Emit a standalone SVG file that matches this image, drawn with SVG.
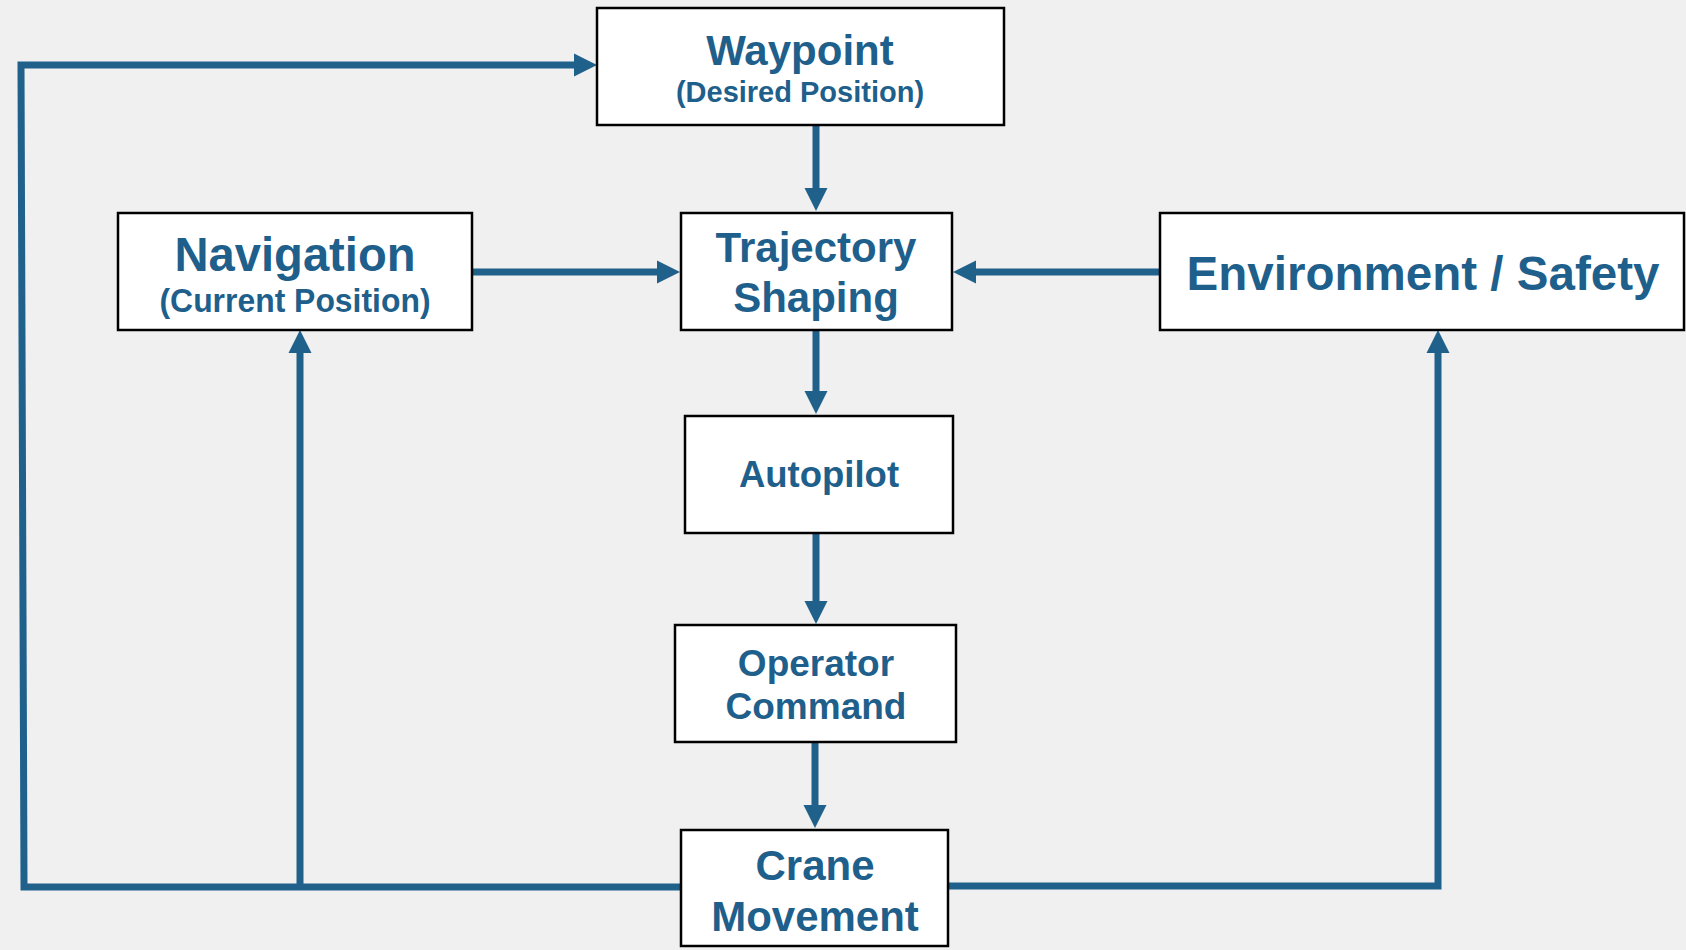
<svg xmlns="http://www.w3.org/2000/svg" width="1686" height="950" viewBox="0 0 1686 950">
<style>
.box{fill:#ffffff;stroke:#000000;stroke-width:2.5}
.t{font-family:"Liberation Sans",Arial,sans-serif;font-weight:bold;fill:#1F5F8B;text-anchor:middle}
.c{fill:none;stroke:#20618C;stroke-width:7;stroke-linejoin:miter}
.a{marker-end:url(#ah)}
</style>
<defs>
<marker id="ah" markerUnits="userSpaceOnUse" markerWidth="24" markerHeight="24" refX="0" refY="11.5" orient="auto" overflow="visible">
<path d="M0,0 L23,11.5 L0,23 z" fill="#20618C"/>
</marker>
</defs>
<rect width="1686" height="950" fill="#F0F0F0"/>
<g id="connectors">
<path class="c a" d="M816 125 V188"/>
<path class="c a" d="M472 272 H657"/>
<path class="c a" d="M1160 272 H976"/>
<path class="c a" d="M816 330 V391"/>
<path class="c a" d="M816 533 V601"/>
<path class="c a" d="M815 742 V805"/>
<path class="c a" d="M681 887 H24 L21 65 H574"/>
<path class="c a" d="M300 887 V353"/>
<path class="c a" d="M948 886 H1438 V353"/>
</g>
<g id="waypoint">
<rect class="box" x="597" y="8" width="407" height="117"/>
<text class="t" x="800" y="65" font-size="42">Waypoint</text>
<text class="t" x="800" y="102" font-size="29">(Desired Position)</text>
</g>
<g id="navigation">
<rect class="box" x="118" y="213" width="354" height="117"/>
<text class="t" x="295" y="271" font-size="48" textLength="241" lengthAdjust="spacingAndGlyphs">Navigation</text>
<text class="t" x="295" y="312" font-size="33" textLength="271" lengthAdjust="spacingAndGlyphs">(Current Position)</text>
</g>
<g id="trajectory">
<rect class="box" x="681" y="213" width="271" height="117"/>
<text class="t" x="816" y="262" font-size="42">Trajectory</text>
<text class="t" x="816" y="312" font-size="42">Shaping</text>
</g>
<g id="environment">
<rect class="box" x="1160" y="213" width="524" height="117"/>
<text class="t" x="1423" y="290" font-size="48" textLength="473" lengthAdjust="spacingAndGlyphs">Environment / Safety</text>
</g>
<g id="autopilot">
<rect class="box" x="685" y="416" width="268" height="117"/>
<text class="t" x="819" y="487" font-size="36.5">Autopilot</text>
</g>
<g id="operator">
<rect class="box" x="675" y="625" width="281" height="117"/>
<text class="t" x="816" y="676" font-size="37">Operator</text>
<text class="t" x="816" y="719" font-size="37">Command</text>
</g>
<g id="crane">
<rect class="box" x="681" y="830" width="267" height="116"/>
<text class="t" x="815" y="880" font-size="42">Crane</text>
<text class="t" x="815" y="931" font-size="42">Movement</text>
</g>
</svg>
